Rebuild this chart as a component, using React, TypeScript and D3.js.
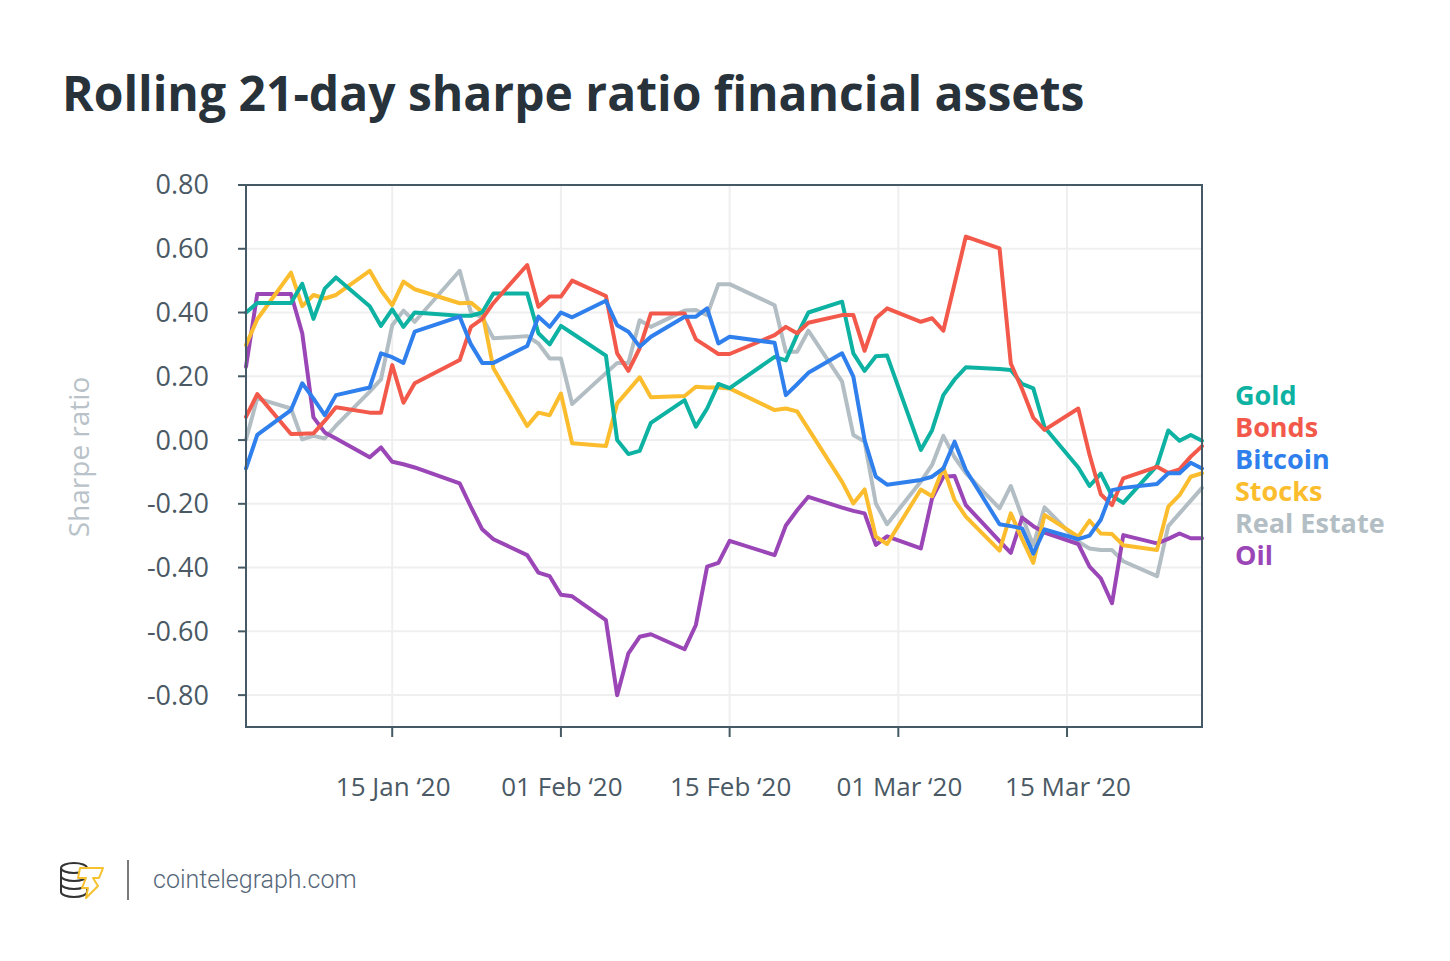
import React from "react";
import * as d3 from "d3";

const tradingDays = [
  "2020-01-02","2020-01-03","2020-01-06","2020-01-07","2020-01-08","2020-01-09","2020-01-10","2020-01-13","2020-01-14","2020-01-15","2020-01-16","2020-01-17","2020-01-21","2020-01-22","2020-01-23","2020-01-24","2020-01-27","2020-01-28","2020-01-29","2020-01-30","2020-01-31",
  "2020-02-03","2020-02-04","2020-02-05","2020-02-06","2020-02-07","2020-02-10","2020-02-11","2020-02-12","2020-02-13","2020-02-14","2020-02-18","2020-02-19","2020-02-20","2020-02-21","2020-02-24","2020-02-25","2020-02-26","2020-02-27","2020-02-28",
  "2020-03-02","2020-03-03","2020-03-04","2020-03-05","2020-03-06","2020-03-09","2020-03-10","2020-03-11","2020-03-12","2020-03-13","2020-03-16","2020-03-17","2020-03-18","2020-03-19","2020-03-20","2020-03-23","2020-03-24","2020-03-25","2020-03-26","2020-03-27",
];

const gold = [
  0.40,0.43,0.43,0.49,0.38,0.475,0.51,0.42,0.358,0.41,0.355,0.40,0.39,0.39,0.40,0.46,0.46,0.335,0.30,0.358,0.335,
  0.265,0.0,-0.044,-0.034,0.054,0.125,0.042,0.099,0.176,0.163,0.261,0.25,0.33,0.40,0.434,0.272,0.217,0.263,0.265,
  -0.031,0.031,0.141,0.19,0.228,0.223,0.22,0.176,0.162,0.04,-0.086,-0.144,-0.105,-0.175,-0.197,-0.08,0.03,-0.002,0.016,-0.002,
];
const bonds = [
  0.073,0.144,0.019,0.02,0.021,0.06,0.103,0.086,0.086,0.235,0.117,0.178,0.251,0.355,0.38,0.43,0.549,0.418,0.45,0.45,0.50,
  0.452,0.272,0.217,0.288,0.397,0.397,0.316,0.293,0.27,0.27,0.329,0.355,0.335,0.368,0.392,0.392,0.28,0.382,0.413,
  0.371,0.382,0.343,0.49,0.638,0.601,0.24,0.16,0.07,0.032,0.099,-0.046,-0.17,-0.204,-0.12,-0.084,-0.103,-0.092,-0.052,-0.019,
];
const bitcoin = [
  -0.089,0.016,0.094,0.178,0.13,0.078,0.141,0.165,0.272,0.26,0.242,0.34,0.387,0.30,0.242,0.242,0.295,0.387,0.355,0.40,0.385,
  0.437,0.36,0.34,0.293,0.324,0.387,0.387,0.413,0.303,0.324,0.305,0.141,0.175,0.211,0.272,0.199,0.0,-0.115,-0.14,
  -0.125,-0.115,-0.089,-0.005,-0.094,-0.264,-0.27,-0.277,-0.356,-0.28,-0.311,-0.30,-0.25,-0.157,-0.15,-0.138,-0.104,-0.104,-0.071,-0.089,
];
const stocks = [
  0.298,0.379,0.525,0.42,0.455,0.444,0.455,0.531,0.47,0.423,0.497,0.473,0.429,0.431,0.402,0.225,0.044,0.086,0.078,0.146,-0.01,
  -0.019,0.115,0.156,0.197,0.134,0.138,0.167,0.165,0.165,0.162,0.094,0.099,0.09,0.035,-0.131,-0.199,-0.155,-0.303,-0.326,
  -0.155,-0.176,-0.086,-0.188,-0.24,-0.347,-0.23,-0.31,-0.385,-0.235,-0.303,-0.253,-0.293,-0.295,-0.33,-0.345,-0.209,-0.173,-0.115,-0.104,
];
const realEstate = [
  0.002,0.131,0.099,0.002,0.013,0.005,0.045,0.152,0.19,0.36,0.406,0.371,0.531,0.40,0.385,0.319,0.326,0.303,0.256,0.256,0.113,
  0.21,0.242,0.242,0.376,0.355,0.406,0.408,0.392,0.489,0.489,0.423,0.277,0.277,0.343,0.183,0.016,-0.005,-0.199,-0.264,
  -0.13,-0.078,0.013,-0.054,-0.104,-0.214,-0.144,-0.24,-0.33,-0.211,-0.319,-0.34,-0.345,-0.345,-0.38,-0.427,-0.27,-0.23,-0.19,-0.15,
];
const oil = [
  0.23,0.458,0.458,0.335,0.071,0.024,0.005,-0.054,-0.023,-0.068,-0.076,-0.086,-0.136,-0.21,-0.28,-0.311,-0.361,-0.416,-0.427,-0.485,-0.49,
  -0.565,-0.80,-0.669,-0.617,-0.609,-0.656,-0.58,-0.397,-0.385,-0.316,-0.361,-0.268,-0.22,-0.178,-0.212,-0.222,-0.23,-0.329,-0.302,
  -0.34,-0.183,-0.115,-0.113,-0.204,-0.317,-0.354,-0.243,-0.27,-0.29,-0.326,-0.397,-0.434,-0.512,-0.298,-0.324,-0.31,-0.293,-0.308,-0.308,
];

const seriesNames = ["Gold", "Bonds", "Bitcoin", "Stocks", "Real Estate", "Oil"];
const seriesValues = [gold, bonds, bitcoin, stocks, realEstate, oil];
const seriesColors = ["#0db2a2", "#f2594a", "#2f7fec", "#fbbd2d", "#b3bec4", "#9b46b7"];
const drawOrder = [4, 5, 3, 0, 1, 2];

const yTicks = [0.8, 0.6, 0.4, 0.2, 0.0, -0.2, -0.4, -0.6, -0.8];
const xTickDates = ["2020-01-15", "2020-01-30", "2020-02-14", "2020-02-29", "2020-03-15"];
const xTickLabels = ["15 Jan \u201820", "01 Feb \u201820", "15 Feb \u201820", "01 Mar \u201820", "15 Mar \u201820"];
const domainStart = "2020-01-02";
const domainEnd = "2020-03-27";
const yDomain = [-0.9, 0.8];

const title = "Rolling 21-day sharpe ratio financial assets";
const yTitle = "Sharpe ratio";
const footerText = "cointelegraph.com";

const W = 1450;
const H = 961;
const plot = { left: 246, right: 1202, top: 185, bottom: 727 };
const FONT = "'Open Sans', 'Noto Sans', sans-serif";
const AXIS = "#455a64";

export default function App() {
  const parse = d3.timeParse("%Y-%m-%d");
  const x = d3
    .scaleTime()
    .domain([parse(domainStart)!, parse(domainEnd)!])
    .range([plot.left, plot.right]);
  const y = d3.scaleLinear().domain(yDomain).range([plot.bottom, plot.top]);
  const dates = tradingDays.map((d) => parse(d)!);
  const line = d3
    .line<number>()
    .x((_, i) => x(dates[i]))
    .y((v) => y(v))
    .curve(d3.curveLinear);
  const fmt = (v: number) => d3.format(".2f")(v).replace("\u2212", "-");

  return (
    <div style={{ position: "absolute", left: 0, top: 0 }}>
      <svg width={W} height={H} style={{ display: "block", background: "#fff" }}>
        <text x={62} y={111} fontFamily={FONT} fontWeight={700} fontSize={48} fill="#27323b">
          {title}
        </text>

        {/* grid */}
        {yTicks.map((t) => (
          <line key={"gy" + t} x1={plot.left} x2={plot.right} y1={y(t)} y2={y(t)} stroke="#efefef" strokeWidth={2} />
        ))}
        {xTickDates.map((d) => (
          <line key={"gx" + d} x1={x(parse(d)!)} x2={x(parse(d)!)} y1={plot.top} y2={plot.bottom} stroke="#efefef" strokeWidth={2} />
        ))}

        {/* series */}
        {drawOrder.map((i) => (
          <path
            key={seriesNames[i]}
            d={line(seriesValues[i]) || ""}
            fill="none"
            stroke={seriesColors[i]}
            strokeWidth={4}
            strokeLinejoin="round"
            strokeLinecap="round"
          />
        ))}

        {/* frame */}
        <rect x={plot.left} y={plot.top} width={plot.right - plot.left} height={plot.bottom - plot.top} fill="none" stroke={AXIS} strokeWidth={2} />
        {yTicks.map((t) => (
          <g key={"yt" + t}>
            <line x1={plot.left - 8} x2={plot.left} y1={y(t)} y2={y(t)} stroke={AXIS} strokeWidth={2} />
            <text x={209} y={y(t)} dy="0.35em" textAnchor="end" fontFamily={FONT} fontSize={27} fill="#4a5964">
              {fmt(t)}
            </text>
          </g>
        ))}
        {xTickDates.map((d, i) => (
          <g key={"xt" + d}>
            <line x1={x(parse(d)!)} x2={x(parse(d)!)} y1={plot.bottom} y2={plot.bottom + 10} stroke={AXIS} strokeWidth={2} />
            <text x={x(parse(d)!) + 1} y={796} textAnchor="middle" fontFamily={FONT} fontSize={26} fill="#4a5964">
              {xTickLabels[i]}
            </text>
          </g>
        ))}

        <text
          transform={`translate(89, ${(plot.top + plot.bottom) / 2 + 1}) rotate(-90)`}
          textAnchor="middle"
          fontFamily={FONT}
          fontSize={28}
          fill="#b8c2c8"
        >
          {yTitle}
        </text>

        {/* legend */}
        {seriesNames.map((n, i) => (
          <text key={"lg" + n} x={1235} y={405 + i * 32} fontFamily={FONT} fontWeight={700} fontSize={27} fill={seriesColors[i]}>
            {n}
          </text>
        ))}

        {/* footer */}
        <g fill="none" stroke="#333" strokeWidth={2}>
          <ellipse cx={74} cy={868} rx={13} ry={5} />
          <path d="M61 868 v8 a13 5 0 0 0 26 0 v-8" />
          <path d="M61 876 v8 a13 5 0 0 0 26 0 v-8" />
          <path d="M61 884 v8 a13 5 0 0 0 26 0 v-8" />
        </g>
        <path
          d="M80 868 L103 868 L99 878 L93 878 L98 886 L86 898 L88 888 L82 888 L86 878 L78 878 Z"
          fill="#fff"
          stroke="#f5c12e"
          strokeWidth={2}
          strokeLinejoin="round"
        />
        <line x1={128} x2={128} y1={860} y2={900} stroke="#7a7a7a" strokeWidth={2} />
        <text x={153} y={888} fontFamily="Roboto, 'Open Sans', sans-serif" fontWeight={300} fontSize={25} fill="#56677a">
          {footerText}
        </text>
      </svg>
    </div>
  );
}
